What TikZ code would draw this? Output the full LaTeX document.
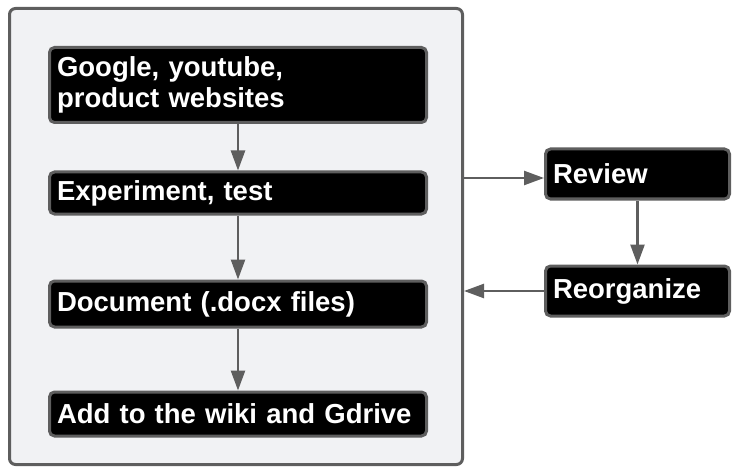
\documentclass[tikz,border=0pt]{standalone}
\usepackage{fontspec}
\setmainfont{Liberation Sans}
\usetikzlibrary{arrows.meta}
\definecolor{edgegray}{HTML}{5E5E5E}
\definecolor{panelgray}{HTML}{F1F2F4}
\tikzset{
  stepbox/.style={draw=edgegray,line width=3pt,fill=black,rounded corners=5pt,
    text=white,font=\bfseries\fontsize{27.5}{30.5}\selectfont,align=left,
    inner xsep=7.5pt,inner ysep=0pt},
  flow/.style={draw=edgegray,line width=2.5pt,-{Triangle[length=20pt,width=14pt]}}
}
\begin{document}
\begin{tikzpicture}[x=1pt,y=-1pt]
    \useasboundingbox (0,0) rectangle (741,473);
    \node[draw=edgegray,fill=panelgray,line width=3pt,rounded corners=6pt,
      minimum width=453pt,minimum height=456pt] (panel) at (236,236.5) {};
    \node[stepbox,text width=362pt,minimum height=75pt] (search) at (238,85)
      {Google, youtube,\\product websites};
    \node[stepbox,text width=362pt,minimum height=42pt] (test) at (238,193)
      {Experiment, test};
    \node[stepbox,text width=362pt,minimum height=46pt] (docs) at (238,304)
      {Document (.docx files)};
    \node[stepbox,text width=362pt,minimum height=44pt] (wiki) at (238,414)
      {Add to the wiki and Gdrive};
    \node[stepbox,text width=169pt,minimum height=50pt] (review) at (637.5,174)
      {Review};
    \node[stepbox,text width=169pt,minimum height=50pt] (reorg) at (637.5,291)
      {Reorganize};
    \coordinate (panelout) at (464,178);
    \draw[flow] (search) -- (test);
    \draw[flow] (test) -- (docs);
    \draw[flow] (docs) -- (wiki);
    \draw[flow] (panelout) -- (panelout -| review.west);
    \draw[flow] (review) -- (reorg);
    \draw[flow] (reorg) -- (reorg -| panel.east);
\end{tikzpicture}
\end{document}
